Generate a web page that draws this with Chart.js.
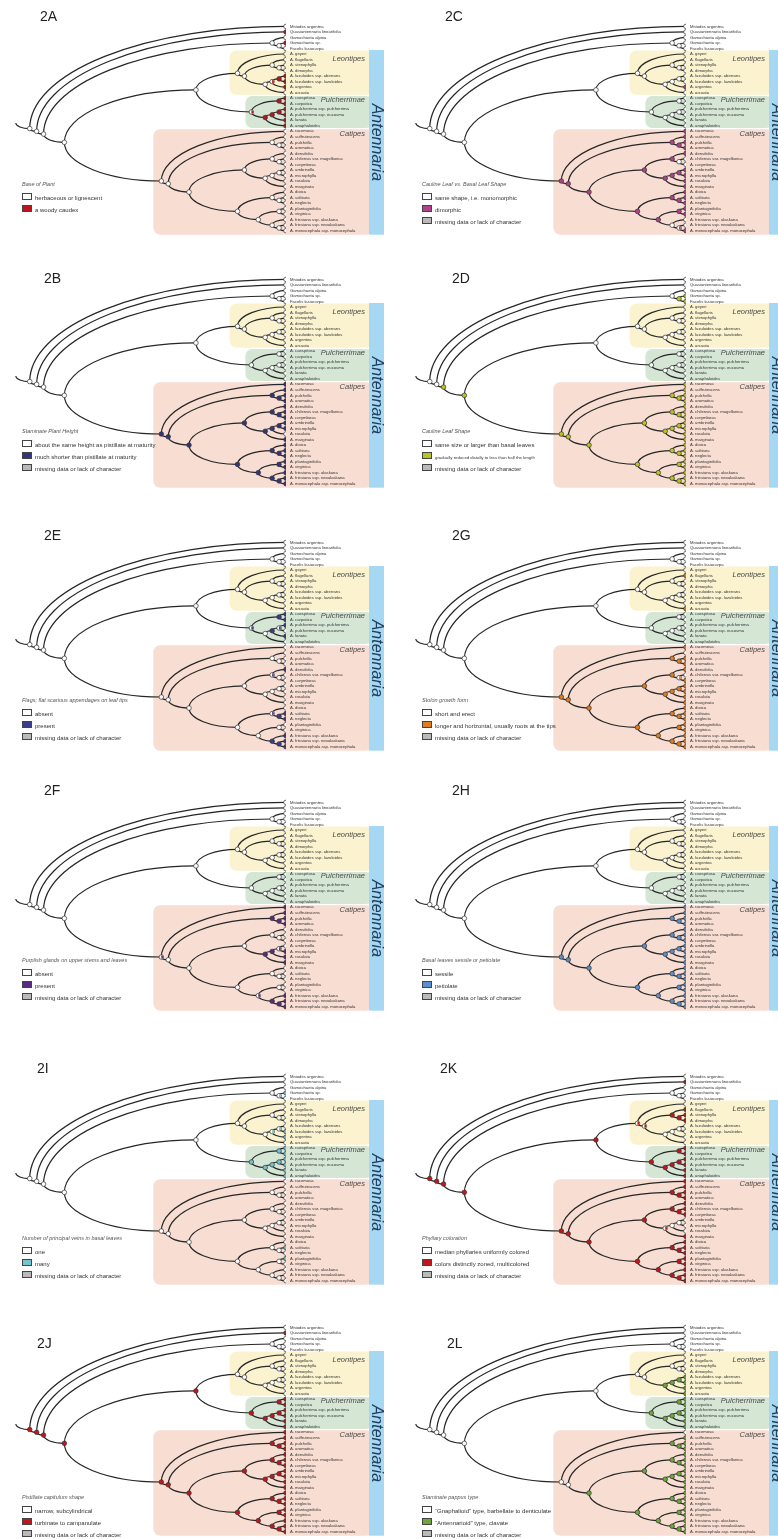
<!DOCTYPE html>
<html>
<head>
<meta charset="utf-8">
<script src="https://cdn.jsdelivr.net/npm/chart.js@4.4.0/dist/chart.umd.min.js"></script>
<style>
  html, body { margin: 0; padding: 0; background: #fff; width: 778px; height: 1539px; overflow: hidden; }
  canvas { position: absolute; }
  .ttl { position: absolute; font: 14px "Liberation Sans", Arial, sans-serif; color: #222; line-height: 14px; }
  .lg { position: absolute; font-family: "Liberation Sans", Arial, sans-serif; color: #333; white-space: nowrap; }
  .lg .lt { font-style: italic; font-size: 5.5px; color: #555; height: 13px; line-height: 8px; }
  .lg .li { font-size: 6px; height: 12px; line-height: 8px; }
  .lg .li.sm { font-size: 4.3px; }
  .lg .bx { display: inline-block; width: 8px; height: 5px; border: 0.8px solid #444; vertical-align: -0.5px; margin-right: 3px; }
</style>
</head>
<body>
<script>
"use strict";

// taxa, top to bottom
var TAXA = ["Mniodes argentea", "Quasiantennaria linearifolia", "Gamochaeta alpina", "Gamochaeta sp.",
    "Facelis lasiocarpa", "A. geyeri", "A. flagellaris", "A. stenophylla", "A. dimorpha",
    "A. luzuloides ssp. aberrans", "A. luzuloides ssp. luzuloides", "A. argentea", "A. arcuata",
    "A. caespitosa", "A. carpatica", "A. pulcherrima ssp. pulcherrima", "A. pulcherrima ssp. eucosma",
    "A. lanata", "A. anaphaloides", "A. racemosa", "A. suffrutescens", "A. pulchella", "A. aromatica",
    "A. densifolia", "A. chilensis var. magellanica", "A. corymbosa", "A. umbrinella", "A. microphylla",
    "A. rosulata", "A. marginata", "A. dioica", "A. solitaria", "A. neglecta", "A. plantaginifolia",
    "A. virginica", "A. friesiana ssp. alaskana", "A. friesiana ssp. neoalaskana",
    "A. monocephala ssp. monocephala"];

// topology (tip indices)
var TREE = [0, [1, [[2, [3, 4]], [[[5, [[6, [7, 8]], [[[9, 10], 11], 12]]], [[13, 14], [[[15, 16], 17], 18]]],
    [19, [[20, [21, 22]], [[[23, [24, 25]], [[[26, 27], 28], 29]], [[30, [31, 32]], [[33, 34], [35, [36, 37]]]]]]]]]]];

var CLADES = [["Leontipes", "5-12"], ["Pulcherrimae", "13-18"], ["Catipes", "19-37"]];

var PANEL_IDS = ["2A", "2C", "2B", "2D", "2E", "2G", "2F", "2H", "2I", "2K", "2J", "2L"];

var LEGEND_TITLES = ["Base of Plant", "Cauline Leaf vs. Basal Leaf Shape", "Staminate Plant Height",
    "Cauline Leaf Shape", "Flags; flat scarious appendages on leaf tips", "Stolon growth form",
    "Purplish glands on upper stems and leaves", "Basal leaves sessile or petiolate",
    "Number of principal veins in basal leaves", "Phyllary coloration", "Pistillate capitulum shape",
    "Staminate pappus type"];

var MISSING = "missing data or lack of character";
var STATE_LABELS = [
    ["herbaceous or lignescent", "a woody caudex"],
    ["same shape, i.e. monomorphic", "dimorphic", MISSING],
    ["about the same height as pistillate at maturity", "much shorter than pistillate at maturity", MISSING],
    ["same size or larger than basal leaves", "gradually reduced distally to less than half the length", MISSING],
    ["absent", "present", MISSING],
    ["short and erect", "longer and horizontal, usually roots at the tips", MISSING],
    ["absent", "present", MISSING],
    ["sessile", "petiolate", MISSING],
    ["one", "many", MISSING],
    ["median phyllaries uniformly colored", "colors distinctly zoned, multicolored", MISSING],
    ["narrow, subcylindrical", "turbinate to campanulate", MISSING],
    ["\u201cGnaphalioid\u201d type, barbellate to denticulate", "\u201cAntennarioid\u201d type, clavate", MISSING]
];

var STATE_COLORS = ["#c0141c", "#b0428c", "#35347f", "#b9c41e", "#3b3c8a", "#e07c1c",
    "#5a2a80", "#5b8fcb", "#74c4cf", "#c3161c", "#c3161c", "#6fa63a"];
var GRAY = "#b9b9b9";

// tip states, one char per taxon: 0 plain, 1 derived, 2 missing
var TIP_STATES = [
    "01010" + "00001110" + "111111" + "0000000000000000000",
    "00000" + "00000010" + "000000" + "1111100111111111001",
    "00000" + "00000000" + "000000" + "1111111110111111111",
    "00011" + "00000000" + "000000" + "1111111111111111111",
    "00000" + "00000000" + "111010" + "0000100000001100111",
    "00000" + "01000001" + "000000" + "1011101111111111111",
    "00000" + "00000000" + "000000" + "1111000011100000111",
    "00000" + "00000000" + "000000" + "1111111111111111111",
    "00010" + "00000110" + "111111" + "0000000000001010000",
    "01000" + "01110000" + "111111" + "1111111000111111111",
    "01000" + "00000000" + "111111" + "1111111111111111111",
    "00000" + "00001111" + "111111" + "0111111111111111111"
];

// internal nodes carrying the derived state, by tip range; "*" = polymorphic
var CAT_NODES = ["19-37", "20-37", "20-22", "21-22", "23-37", "23-29", "23-25", "24-25", "26-29", "26-28",
    "26-27", "30-37", "30-32", "31-32", "33-37", "33-34", "35-37", "36-37"];
var NODE_STATES = [
    ["9-10", "9-11*", "13-18*", "13-14", "15-18", "15-17", "15-16"],
    ["19-37", "20-37", "20-22", "21-22", "23-37", "23-29", "23-25", "26-29", "26-28", "26-27", "30-37",
        "30-32", "31-32", "33-37", "33-34", "36-37*"],
    CAT_NODES,
    ["3-4", "2-37", "5-37"].concat(CAT_NODES),
    ["13-18*", "13-14", "15-17", "15-16*", "23-25*", "31-32", "30-32*", "35-37", "36-37"],
    ["19-37", "20-37", "20-22", "21-22", "23-37", "23-29", "23-25", "24-25*", "26-29", "26-28", "26-27",
        "30-37", "30-32", "31-32", "33-37", "33-34", "35-37", "36-37"],
    ["19-37*", "20-22", "21-22", "26-27*", "26-28", "26-29", "33-37*", "35-37", "36-37"],
    CAT_NODES,
    ["3-4*", "9-11*", "9-10*", "13-18", "13-14", "15-18", "15-17", "15-16"],
    ["0-37", "1-37", "2-37", "5-37", "5-18", "5-12*", "6-12*", "6-8", "7-8", "13-18", "13-14", "15-18",
        "15-17", "15-16", "19-37", "20-37", "20-22", "21-22", "23-37", "23-29", "23-25", "24-25", "26-29*",
        "30-37", "30-32", "31-32", "33-37", "33-34", "35-37", "36-37"],
    ["0-37", "1-37", "2-37", "5-37", "5-18", "13-18", "13-14", "15-18", "15-17", "15-16"].concat(CAT_NODES),
    ["9-12", "9-11", "9-10", "13-18", "13-14", "15-18", "15-17", "15-16", "20-22", "21-22", "23-37",
        "23-29", "23-25", "24-25", "26-29", "26-28", "26-27", "30-37", "30-32", "31-32", "33-37", "33-34",
        "35-37", "36-37"]
];

// page layout
var ROW_Y = [24, 277, 540, 800, 1074, 1325];     // y of first tip in each row
var COL_X = [0, 400];
var TITLE_DY = [-8, 1, -5, -10, -6, 18];
var LEGEND_DY = [156, 150, 156, 156, 160, 168];
var TITLE_X = [[40, 445], [44, 452], [44, 452], [44, 452], [37, 440], [37, 447]];
var SMALL_ITEM = {3: 1};   // legend entry set in a smaller size (panel: entry)
var CW = 389, CH = 245, TOP_PAD = 24, STEP = 5.66, COLW = 7;
var FONT = '"Liberation Sans", Arial, sans-serif';

function buildTree(t) {
    var nodes = [], edges = [];
    function walk(n) {
        var o;
        if (typeof n === "number") {
            o = {tip: true, lo: n, hi: n, n: 1, key: String(n)};
            nodes.push(o);
            return o;
        }
        o = {tip: false, kids: []};
        nodes.push(o);
        n.forEach(function (c) {
            var k = walk(c);
            o.kids.push(k);
            edges.push([o, k]);
        });
        o.lo = Math.min.apply(null, o.kids.map(function (k) { return k.lo; }));
        o.hi = Math.max.apply(null, o.kids.map(function (k) { return k.hi; }));
        o.n = o.kids.reduce(function (s, k) { return s + k.n; }, 0);
        o.key = o.lo + "-" + o.hi;
        return o;
    }
    var root = walk(t);
    nodes.forEach(function (o) {
        o.x = o.n - 1;
        o.y = (o.lo + o.hi) / 2;
    });
    return {nodes: nodes, edges: edges, root: root};
}

var T = buildTree(TREE);

function stateOf(k, o) {
    if (o.tip) return TIP_STATES[k].charAt(o.lo);
    var list = NODE_STATES[k];
    if (list.indexOf(o.key) >= 0) return "1";
    if (list.indexOf(o.key + "*") >= 0) return "h";
    return "0";
}

function arc(ctx, px, py, cx, cy) {
    ctx.beginPath();
    var rx = Math.abs(cx - px), ry = Math.abs(cy - py);
    if (ry < 0.3 || rx < 0.3) {
        ctx.moveTo(px, py);
        ctx.lineTo(cx, cy);
    } else if (cy < py) {
        ctx.ellipse(cx, py, rx, ry, 0, Math.PI, Math.PI * 1.5, false);
    } else {
        ctx.ellipse(cx, py, rx, ry, 0, Math.PI, Math.PI * 0.5, true);
    }
    ctx.stroke();
}

function findNode(key) {
    for (var i = 0; i < T.nodes.length; i++) if (T.nodes[i].key === key) return T.nodes[i];
    return null;
}

var treePlugin = {
    id: "tree",
    beforeDatasetsDraw: function (chart, args, opts) {
        var ctx = chart.ctx, xs = chart.scales.x, ys = chart.scales.y;
        var right = chart.chartArea.right + 83;
        var yt = function (i) { return ys.getPixelForValue(i); };
        ctx.save();
        // clade boxes
        var leon = findNode("5-12"), pul = findNode("13-18"), cat = findNode("19-37");
        var b1 = (yt(12) + yt(13)) / 2, b2 = (yt(18) + yt(19)) / 2;
        var boxes = [
            [xs.getPixelForValue(leon.x) - 8, yt(5) - 3.5, b1 - 0.6, "#fbf3cf"],
            [xs.getPixelForValue(pul.x) - 6, b1 + 0.6, b2 - 0.6, "#d6e6d5"],
            [xs.getPixelForValue(cat.x) - 8, b2 + 0.6, yt(37) + 4, "#f8ddd2"]
        ];
        boxes.forEach(function (b) {
            ctx.beginPath();
            ctx.roundRect(b[0], b[1], right - b[0] + 4, b[2] - b[1], 7);
            ctx.fillStyle = b[3];
            ctx.fill();
        });
        // genus bar
        ctx.fillStyle = "#a6d8f3";
        ctx.fillRect(right, yt(5) - 4, 15, yt(37) + 4 - (yt(5) - 4));
        ctx.save();
        ctx.translate(right + 7.5, (yt(5) + yt(37)) / 2);
        ctx.rotate(Math.PI / 2);
        ctx.font = "italic 16px " + FONT;
        ctx.fillStyle = "#203e5a";
        ctx.textAlign = "center";
        ctx.textBaseline = "middle";
        ctx.fillText("Antennaria", 0, 0);
        ctx.restore();
        // clade names
        ctx.font = "italic 7.5px " + FONT;
        ctx.fillStyle = "#4a4a4a";
        ctx.textAlign = "right";
        ctx.textBaseline = "middle";
        var cladeDy = [5, 1.5, 3];
        CLADES.forEach(function (c, i) {
            var nd = findNode(c[1]);
            ctx.fillText(c[0], right - 4, yt(nd.lo) + cladeDy[i]);
        });
        // branches
        ctx.strokeStyle = "#262626";
        ctx.lineWidth = 1.2;
        T.edges.forEach(function (e) {
            arc(ctx, xs.getPixelForValue(e[0].x), ys.getPixelForValue(e[0].y),
                xs.getPixelForValue(e[1].x), ys.getPixelForValue(e[1].y));
        });
        // root stem
        arc(ctx, xs.getPixelForValue(T.root.x + 2), ys.getPixelForValue(T.root.y - 1),
            xs.getPixelForValue(T.root.x), ys.getPixelForValue(T.root.y));
        ctx.restore();
    },
    afterDatasetsDraw: function (chart, args, opts) {
        var ctx = chart.ctx, xs = chart.scales.x, ys = chart.scales.y;
        ctx.save();
        // polymorphic nodes: half filled
        T.nodes.forEach(function (o) {
            if (stateOf(opts.panel, o) !== "h") return;
            var px = xs.getPixelForValue(o.x), py = ys.getPixelForValue(o.y);
            ctx.beginPath();
            ctx.arc(px, py, 1.8, -Math.PI / 2, Math.PI / 2);
            ctx.closePath();
            ctx.fillStyle = STATE_COLORS[opts.panel];
            ctx.fill();
        });
        // tip labels
        ctx.font = "4.2px " + FONT;
        ctx.fillStyle = "#333";
        ctx.textAlign = "left";
        ctx.textBaseline = "middle";
        TAXA.forEach(function (name, i) {
            ctx.fillText(name, xs.getPixelForValue(0) + 4, ys.getPixelForValue(i));
        });
        ctx.restore();
    }
};

function makePanel(k) {
    var row = Math.floor(k / 2), col = k % 2;
    var left = COL_X[col], top = ROW_Y[row] - TOP_PAD;

    var canvas = document.createElement("canvas");
    canvas.width = CW;
    canvas.height = CH;
    canvas.style.left = left + "px";
    canvas.style.top = top + "px";
    document.body.appendChild(canvas);

    var pts = T.nodes.map(function (o) { return {x: o.x, y: o.y}; });
    var fills = T.nodes.map(function (o) {
        var s = stateOf(k, o);
        return s === "1" ? STATE_COLORS[k] : (s === "2" ? GRAY : "#ffffff");
    });
    var xMax = (CW - 103) / COLW;
    var yMin = -TOP_PAD / STEP;

    new Chart(canvas, {
        type: "scatter",
        data: {
            datasets: [{
                data: pts,
                pointRadius: 2.3,
                pointHoverRadius: 2.3,
                pointBackgroundColor: fills,
                pointBorderColor: "#333",
                pointBorderWidth: 0.7
            }]
        },
        options: {
            responsive: false,
            animation: false,
            events: [],
            devicePixelRatio: 1,
            layout: {padding: {left: 0, right: 103, top: 0, bottom: 0}},
            scales: {
                x: {type: "linear", display: false, reverse: true, min: 0, max: xMax},
                y: {type: "linear", display: false, reverse: true, min: yMin, max: yMin + CH / STEP}
            },
            plugins: {
                legend: {display: false},
                tooltip: {enabled: false},
                tree: {panel: k}
            }
        },
        plugins: [treePlugin]
    });

    // panel letter
    var t = document.createElement("div");
    t.className = "ttl";
    t.textContent = PANEL_IDS[k];
    t.style.left = TITLE_X[row][col] + "px";
    t.style.top = (ROW_Y[row] + TITLE_DY[row] - 7) + "px";
    document.body.appendChild(t);

    // character legend
    var lg = document.createElement("div");
    lg.className = "lg";
    lg.style.left = (left + 22) + "px";
    lg.style.top = (ROW_Y[row] + LEGEND_DY[row]) + "px";
    var html = '<div class="lt">' + LEGEND_TITLES[k] + "</div>";
    STATE_LABELS[k].forEach(function (lab, i) {
        var c = i === 0 ? "#fff" : (i === 1 ? STATE_COLORS[k] : GRAY);
        var cls = SMALL_ITEM[k] === i ? "li sm" : "li";
        html += '<div class="' + cls + '"><span class="bx" style="background:' + c + '"></span>' + lab + "</div>";
    });
    lg.innerHTML = html;
    document.body.appendChild(lg);
}

for (var k = 0; k < PANEL_IDS.length; k++) makePanel(k);
</script>
</body>
</html>
